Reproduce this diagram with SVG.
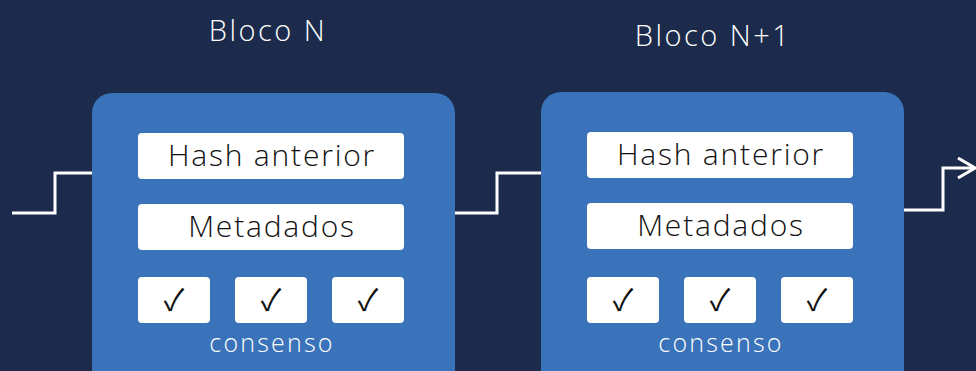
<svg xmlns="http://www.w3.org/2000/svg" width="976" height="371" viewBox="0 0 976 371">
  <defs>
    <style>
      .bg { fill: #1c2b4b; }
      .block { fill: #3a73b9; }
      .field { fill: #ffffff; }
      .title { font-family: "Open Sans", "Liberation Sans", sans-serif; font-weight: 300; font-size: 29px; letter-spacing: 2.5px; fill: #ffffff; text-anchor: middle; }
      .label { font-family: "Open Sans", "Liberation Sans", sans-serif; font-weight: 300; font-size: 30px; letter-spacing: 1.8px; fill: #111111; text-anchor: middle; }
      .check { font-family: "Noto Sans CJK SC", "DejaVu Sans", sans-serif; font-weight: 400; font-size: 30px; fill: #111111; text-anchor: middle; }
      .caption { font-family: "Open Sans", "Liberation Sans", sans-serif; font-weight: 300; font-size: 25px; letter-spacing: 2.2px; fill: #ffffff; text-anchor: middle; }
      .link { fill: none; stroke: #ffffff; stroke-width: 3; }
    </style>
    <marker id="arrow" markerWidth="22" markerHeight="24" refX="18" refY="11" orient="auto" markerUnits="userSpaceOnUse">
      <path d="M1,1 L18,11 L1,21" fill="none" stroke="#ffffff" stroke-width="3"/>
    </marker>
  </defs>

  <rect class="bg" x="0" y="0" width="976" height="371"/>

  <g id="connectors">
    <polyline class="link" points="12,213 55,213 55,173 92,173"/>
    <polyline class="link" points="455,213 497,213 497,173 541,173"/>
    <polyline class="link" points="904,210 943,210 943,168 975,168" marker-end="url(#arrow)"/>
  </g>

  <g id="block-n">
    <text class="title" x="268" y="41">Bloco N</text>
    <rect class="block" x="92" y="93" width="363" height="300" rx="20"/>
    <rect class="field" x="138" y="133" width="266" height="46" rx="4"/>
    <text class="label" x="272" y="166">Hash anterior</text>
    <rect class="field" x="138" y="204" width="266" height="46" rx="4"/>
    <text class="label" x="272" y="237">Metadados</text>
    <rect class="field" x="138" y="277" width="72" height="46" rx="4"/>
    <rect class="field" x="235" y="277" width="72" height="46" rx="4"/>
    <rect class="field" x="332" y="277" width="72" height="46" rx="4"/>
    <text class="check" x="174" y="311">✓</text>
    <text class="check" x="271" y="311">✓</text>
    <text class="check" x="368" y="311">✓</text>
    <text class="caption" x="272" y="352">consenso</text>
  </g>

  <g id="block-n1">
    <text class="title" x="713" y="46">Bloco N+1</text>
    <rect class="block" x="541" y="92" width="363" height="300" rx="20"/>
    <rect class="field" x="587" y="132" width="266" height="46" rx="4"/>
    <text class="label" x="721" y="165">Hash anterior</text>
    <rect class="field" x="587" y="203" width="266" height="46" rx="4"/>
    <text class="label" x="721" y="236">Metadados</text>
    <rect class="field" x="587" y="277" width="72" height="46" rx="4"/>
    <rect class="field" x="684" y="277" width="72" height="46" rx="4"/>
    <rect class="field" x="781" y="277" width="72" height="46" rx="4"/>
    <text class="check" x="623" y="311">✓</text>
    <text class="check" x="720" y="311">✓</text>
    <text class="check" x="817" y="311">✓</text>
    <text class="caption" x="721" y="352">consenso</text>
  </g>
</svg>
